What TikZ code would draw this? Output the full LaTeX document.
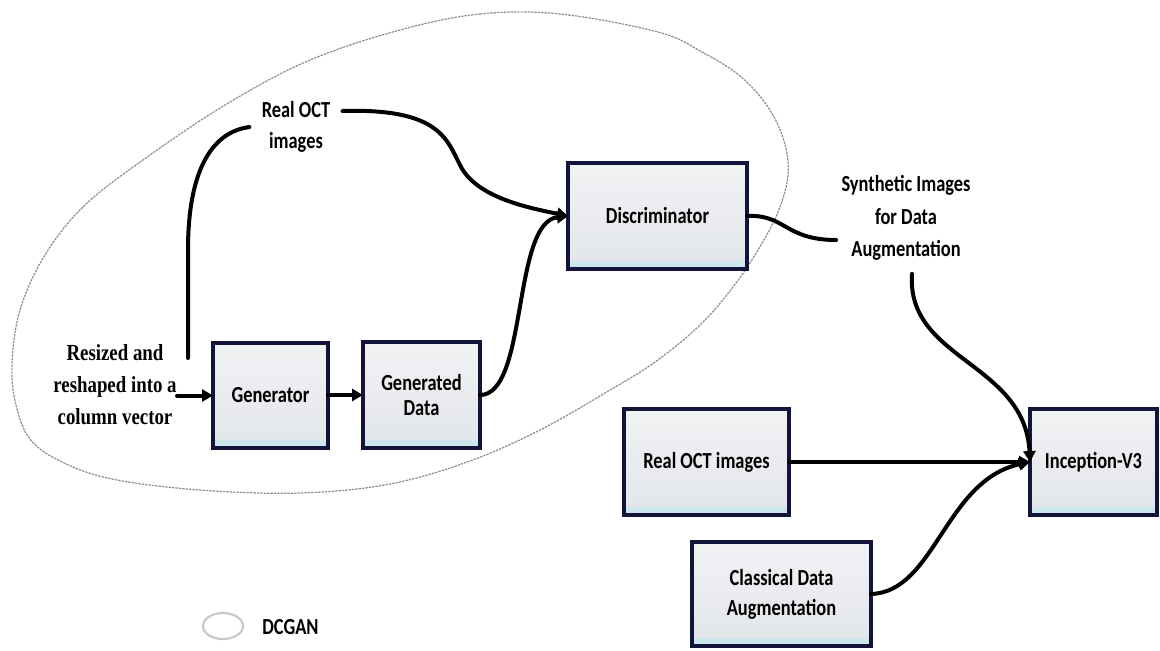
\documentclass[tikz,border=0pt]{standalone}
\usepackage{fontspec}
\usetikzlibrary{arrows.meta,shapes.geometric}
\newfontfamily\boxfont[FakeStretch=0.8]{Carlito}
\newfontfamily\serfont[FakeStretch=0.82]{Liberation Serif}
\def\pxu{0.5pt}
\definecolor{boxline}{HTML}{12143A}
\definecolor{boxtop}{HTML}{F1F2F4}
\definecolor{boxbot}{HTML}{E2E5E9}
\definecolor{boxstrip}{HTML}{CDE8ED}
\definecolor{ringline}{HTML}{8E8E8E}
\definecolor{legline}{HTML}{C9C9C9}
\tikzset{
  stagebox/.style={draw=boxline, line width=2.1pt, top color=boxtop, bottom color=boxbot,
    inner sep=0pt, outer sep=0pt, align=center,
    font=\boxfont\bfseries\fontsize{11.5}{12.8}\selectfont,
    path picture={\fill[boxstrip] (path picture bounding box.south west)
      rectangle ([yshift=3.8pt]path picture bounding box.south east);}},
  freetext/.style={align=center, inner sep=2.5pt, font=\boxfont\bfseries\fontsize{11.5}{15.5}\selectfont},
  link/.style={line width=2pt, black, line cap=round},
  arrowlink/.style={link, -{Triangle[length=5.5pt,width=6pt]}},
}
\begin{document}
\begin{tikzpicture}[x=0.5pt, y=-0.5pt]
\useasboundingbox[fill=white] (0,0) rectangle (1160,650);

% DCGAN boundary
\draw[ringline, line width=0.6pt, dash pattern=on 1.2pt off 0.5pt]
  plot[smooth cycle, tension=0.6] coordinates {
    (400,30) (480,14) (560,14) (658,32) (702,52) (740,76) (768,107) (784,141)
    (788,175) (778,212) (758,250) (733,287) (700,325) (655,362) (605,393)
    (540,430) (470,461) (390,484) (300,493) (200,490) (112,479) (60,461)
    (30,439) (16,405) (12,365) (20,310) (45,255) (85,205) (150,155) (230,102)
    (310,60)};

% stages
\node[stagebox, minimum width=115*\pxu, minimum height=105*\pxu] (gen) at (270.5,395.5) {Generator};
\node[stagebox, minimum width=117*\pxu, minimum height=106*\pxu] (gdata) at (421.5,395) {Generated\\Data};
\node[stagebox, minimum width=179*\pxu, minimum height=106*\pxu] (disc) at (657.5,216) {Discriminator};
\node[stagebox, minimum width=165*\pxu, minimum height=106*\pxu] (realbox) at (706.5,462) {Real OCT images};
\node[stagebox, minimum width=127*\pxu, minimum height=106*\pxu] (incep) at (1093.5,462) {Inception-V3};
\node[stagebox, minimum width=179*\pxu, minimum height=104*\pxu, font=\boxfont\bfseries\fontsize{11.5}{15}\selectfont] (classic) at (781.5,594) {Classical Data\\Augmentation};

% free labels
\node[align=center, inner sep=0pt, font=\serfont\bfseries\fontsize{11.5}{16}\selectfont] (inp) at (115,385) {Resized and\\reshaped into a\\column vector};
\node[freetext, inner sep=6pt] (realtxt) at (296,127) {Real OCT\\images};
\node[freetext, font=\boxfont\bfseries\fontsize{11.5}{16.2}\selectfont] (synth) at (906,218) {Synthetic Images\\for Data\\Augmentation};

% legend
\node[ellipse, draw=legline, line width=1.1pt, minimum width=40*\pxu, minimum height=26*\pxu, inner sep=0pt] (legring) at (223,626) {};
\node[freetext, anchor=west] (legtxt) at (257,627) {DCGAN};

% connectors
\coordinate (vstart) at (188,358);
\draw[arrowlink] (inp.east |- gen.west) -- (gen.west);
\draw[arrowlink] (gen.east |- gdata.west) -- (gdata.west);
\draw[link] (vstart) -- (188,250) .. controls (188,170) and (212,132) .. (realtxt.west);
\draw[arrowlink] ([yshift=8pt]realtxt.east) .. controls (440,108) and (447,140) .. (460,165)
  .. controls (476,198) and (530,208) .. (disc.west);
\draw[arrowlink] (gdata.east) .. controls (528,395) and (512,222) .. (disc.west);
\draw[link] (disc.east) .. controls (785,214) and (785,240) .. ([yshift=-11pt]synth.west);
\draw[arrowlink] ([xshift=3pt,yshift=-4pt]synth.south) .. controls (906,360) and (1025,362) .. (incep.west);
\draw[arrowlink] (realbox.east) -- (incep.west);
\draw[arrowlink] (classic.east) .. controls (935,592) and (945,480) .. (incep.west);
\end{tikzpicture}
\end{document}
